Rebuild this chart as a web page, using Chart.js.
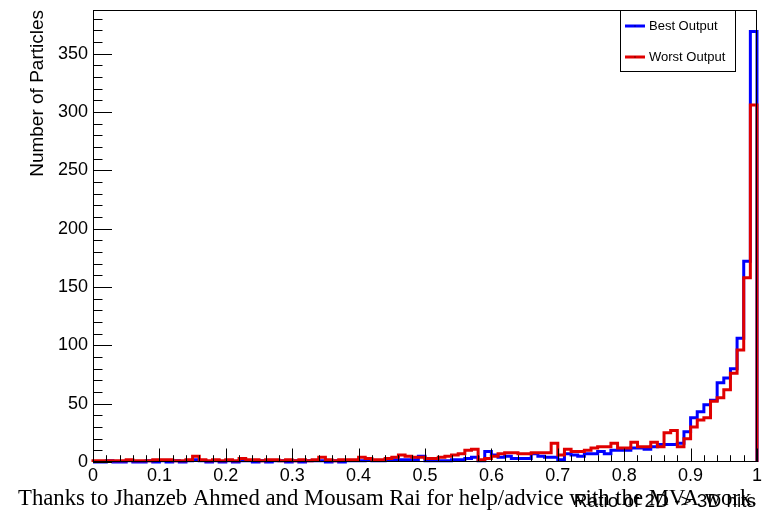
<!DOCTYPE html>
<html>
<head>
<meta charset="utf-8">
<title>Ratio of 2D to 3D hits</title>
<script src="https://cdn.jsdelivr.net/npm/chart.js@4/dist/chart.umd.min.js"></script>
<style>
  html, body { margin: 0; padding: 0; background: #fff; }
  #wrap { position: relative; width: 764px; height: 511px; }
</style>
</head>
<body>
<div id="wrap"><canvas id="c" width="764" height="511"></canvas></div>
<script>
// Histogram range: 100 equal bins between 0 and 1
const xMin = 0;
const xMax = 1;
const yMax = 387.5;

// Counts per bin
const bestOutput = [
  0, 0, 1, 0, 0, 1, 0, 0, 1, 0,
  1, 0, 1, 0, 1, 2, 1, 0, 1, 0,
  1, 0, 1, 1, 0, 1, 0, 1, 1, 0,
  1, 0, 1, 1, 1, 0, 1, 0, 1, 1,
  1, 2, 1, 1, 2, 2, 2, 2, 2, 5,
  1, 1, 1, 1, 2, 2, 3, 4, 1, 9,
  6, 4, 5, 3, 3, 3, 7, 5, 4, 4,
  2, 7, 6, 5, 7, 7, 9, 7, 10, 10,
  10, 12, 12, 11, 13, 15, 15, 15, 16, 26,
  38, 43, 49, 53, 68, 72, 80, 106, 172, 369
];
const worstOutput = [
  1, 1, 1, 1, 1, 2, 1, 1, 1, 2,
  2, 2, 1, 1, 2, 5, 2, 1, 2, 1,
  2, 1, 3, 2, 2, 1, 2, 2, 1, 2,
  1, 2, 1, 2, 4, 2, 1, 2, 2, 2,
  4, 3, 2, 2, 3, 4, 6, 5, 4, 4,
  3, 3, 4, 5, 6, 7, 10, 11, 2, 3,
  5, 7, 8, 8, 7, 7, 8, 8, 8, 16,
  6, 11, 9, 9, 10, 12, 13, 13, 16, 12,
  12, 17, 13, 13, 17, 13, 25, 27, 13, 20,
  30, 36, 38, 52, 55, 62, 76, 96, 158, 306
];

const xTickValues = [0, 0.1, 0.2, 0.3, 0.4, 0.5, 0.6, 0.7, 0.8, 0.9, 1];
const xTickLabels = ['0', '0.1', '0.2', '0.3', '0.4', '0.5', '0.6', '0.7', '0.8', '0.9', '1'];
const yTickValues = [0, 50, 100, 150, 200, 250, 300, 350];
const yTickLabels = ['0', '50', '100', '150', '200', '250', '300', '350'];

const seriesNames = ['Best Output', 'Worst Output'];
const seriesColors = ['#0000ff', '#e00000'];
const xTitle = 'Ratio of 2D -> 3D hits';
const yTitle = 'Number of Particles';
const footerText = 'Thanks to Jhanzeb Ahmed and Mousam Rai for help/advice with the MVA work.';

const SANS = '"Liberation Sans", Arial, Helvetica, sans-serif';
const SERIF = '"Liberation Serif", "Times New Roman", serif';

// Outline of a histogram: one point at each bin's low edge, closed to zero at both ends
function histPoints(values) {
  const w = (xMax - xMin) / values.length;
  const pts = [{ x: xMin, y: 0 }];
  values.forEach((v, i) => pts.push({ x: xMin + i * w, y: v }));
  pts.push({ x: xMax, y: values[values.length - 1] });
  pts.push({ x: xMax, y: 0 });
  return pts;
}

// Frame, inward ticks, axis titles, legend box and footer line
const frameDecor = {
  id: 'frameDecor',
  afterDatasetsDraw(chart) {
    const { ctx, chartArea: a, scales: { x, y } } = chart;
    ctx.save();
    ctx.strokeStyle = '#000';
    ctx.lineWidth = 1;
    ctx.strokeRect(a.left + 0.5, a.top + 0.5, a.right - a.left - 1, a.bottom - a.top - 1);

    ctx.beginPath();
    // x axis: major every 0.1, minor every 0.02
    for (let k = 0; k <= 50; k++) {
      const px = Math.round(x.getPixelForValue(xMin + k * (xMax - xMin) / 50)) + 0.5;
      const len = (k % 5 === 0) ? 13.5 : 6.8;
      ctx.moveTo(px, a.bottom);
      ctx.lineTo(px, a.bottom - len);
    }
    // y axis: major every 50, minor every 10
    for (let v = 0; v <= yMax; v += 10) {
      const py = Math.round(y.getPixelForValue(v)) + 0.5;
      const len = (v % 50 === 0) ? 19 : 9.5;
      ctx.moveTo(a.left, py);
      ctx.lineTo(a.left + len, py);
    }
    ctx.stroke();
    ctx.restore();
  },
  afterDraw(chart) {
    const { ctx, chartArea: a } = chart;
    ctx.save();
    ctx.fillStyle = '#000';

    // footer line in serif, spanning the width under the plot
    let fs = 24;
    ctx.font = fs + 'px ' + SERIF;
    const w = ctx.measureText(footerText).width;
    fs = fs * (739 / w);
    ctx.font = fs.toFixed(2) + 'px ' + SERIF;
    ctx.textAlign = 'left';
    ctx.textBaseline = 'alphabetic';
    ctx.fillText(footerText, 18, 505);

    // x axis title, right aligned to the frame
    ctx.font = '19px ' + SANS;
    ctx.textAlign = 'right';
    ctx.fillText(xTitle, a.right - 1, 507);

    // y axis title, rotated, aligned to the top of the frame
    ctx.save();
    ctx.translate(43, a.top);
    ctx.rotate(-Math.PI / 2);
    ctx.textAlign = 'right';
    ctx.textBaseline = 'alphabetic';
    ctx.fillText(yTitle, 0, 0);
    ctx.restore();

    // legend box
    const bx = 620.5, by = 10.5, bw = 115, bh = 61;
    ctx.fillStyle = '#fff';
    ctx.fillRect(bx, by, bw, bh);
    ctx.strokeStyle = '#000';
    ctx.lineWidth = 1;
    ctx.strokeRect(bx, by, bw, bh);
    const rows = [26, 57];
    chart.data.datasets.forEach((ds, i) => {
      const ry = rows[i];
      ctx.strokeStyle = ds.borderColor;
      ctx.lineWidth = 3;
      ctx.beginPath();
      ctx.moveTo(625, ry);
      ctx.lineTo(645, ry);
      ctx.stroke();
      ctx.fillStyle = '#000';
      ctx.fillRect(634.5, ry - 0.5, 1, 1);
      ctx.font = '13px ' + SANS;
      ctx.textAlign = 'left';
      ctx.textBaseline = 'middle';
      ctx.fillText(ds.label, 649, ry);
    });
    ctx.restore();
  }
};

const chart = new Chart(document.getElementById('c'), {
  type: 'line',
  data: {
    datasets: [
      {
        label: seriesNames[0],
        data: histPoints(bestOutput),
        borderColor: seriesColors[0],
        order: 1
      },
      {
        label: seriesNames[1],
        data: histPoints(worstOutput),
        borderColor: seriesColors[1],
        order: 0
      }
    ]
  },
  options: {
    responsive: false,
    devicePixelRatio: 1,
    animation: false,
    layout: { padding: { top: 10, right: 7, left: 0, bottom: 0 } },
    elements: {
      line: {
        borderWidth: 3,
        stepped: 'before',
        tension: 0,
        fill: false,
        borderJoinStyle: 'miter',
        borderCapStyle: 'butt'
      },
      point: { radius: 0, hoverRadius: 0 }
    },
    datasets: { line: { clip: false } },
    plugins: {
      legend: { display: false },
      tooltip: { enabled: false },
      title: { display: false }
    },
    scales: {
      x: {
        type: 'linear',
        min: xMin,
        max: xMax,
        grid: { display: false, drawTicks: false },
        border: { display: false },
        afterBuildTicks: s => { s.ticks = xTickValues.map(v => ({ value: v })); },
        afterFit: s => { s.height = 49; s.paddingLeft = 0; s.paddingRight = 0; },
        ticks: {
          autoSkip: false,
          maxRotation: 0,
          padding: 3,
          color: '#000',
          font: { family: SANS, size: 18 },
          callback: (v, i) => xTickLabels[i]
        }
      },
      y: {
        type: 'linear',
        min: 0,
        max: yMax,
        grid: { display: false, drawTicks: false },
        border: { display: false },
        afterBuildTicks: s => { s.ticks = yTickValues.map(v => ({ value: v })); },
        afterFit: s => { s.width = 93; s.paddingTop = 0; s.paddingBottom = 0; },
        ticks: {
          autoSkip: false,
          padding: 5,
          color: '#000',
          font: { family: SANS, size: 18 },
          callback: (v, i) => yTickLabels[i]
        }
      }
    }
  },
  plugins: [frameDecor]
});
</script>
</body>
</html>
